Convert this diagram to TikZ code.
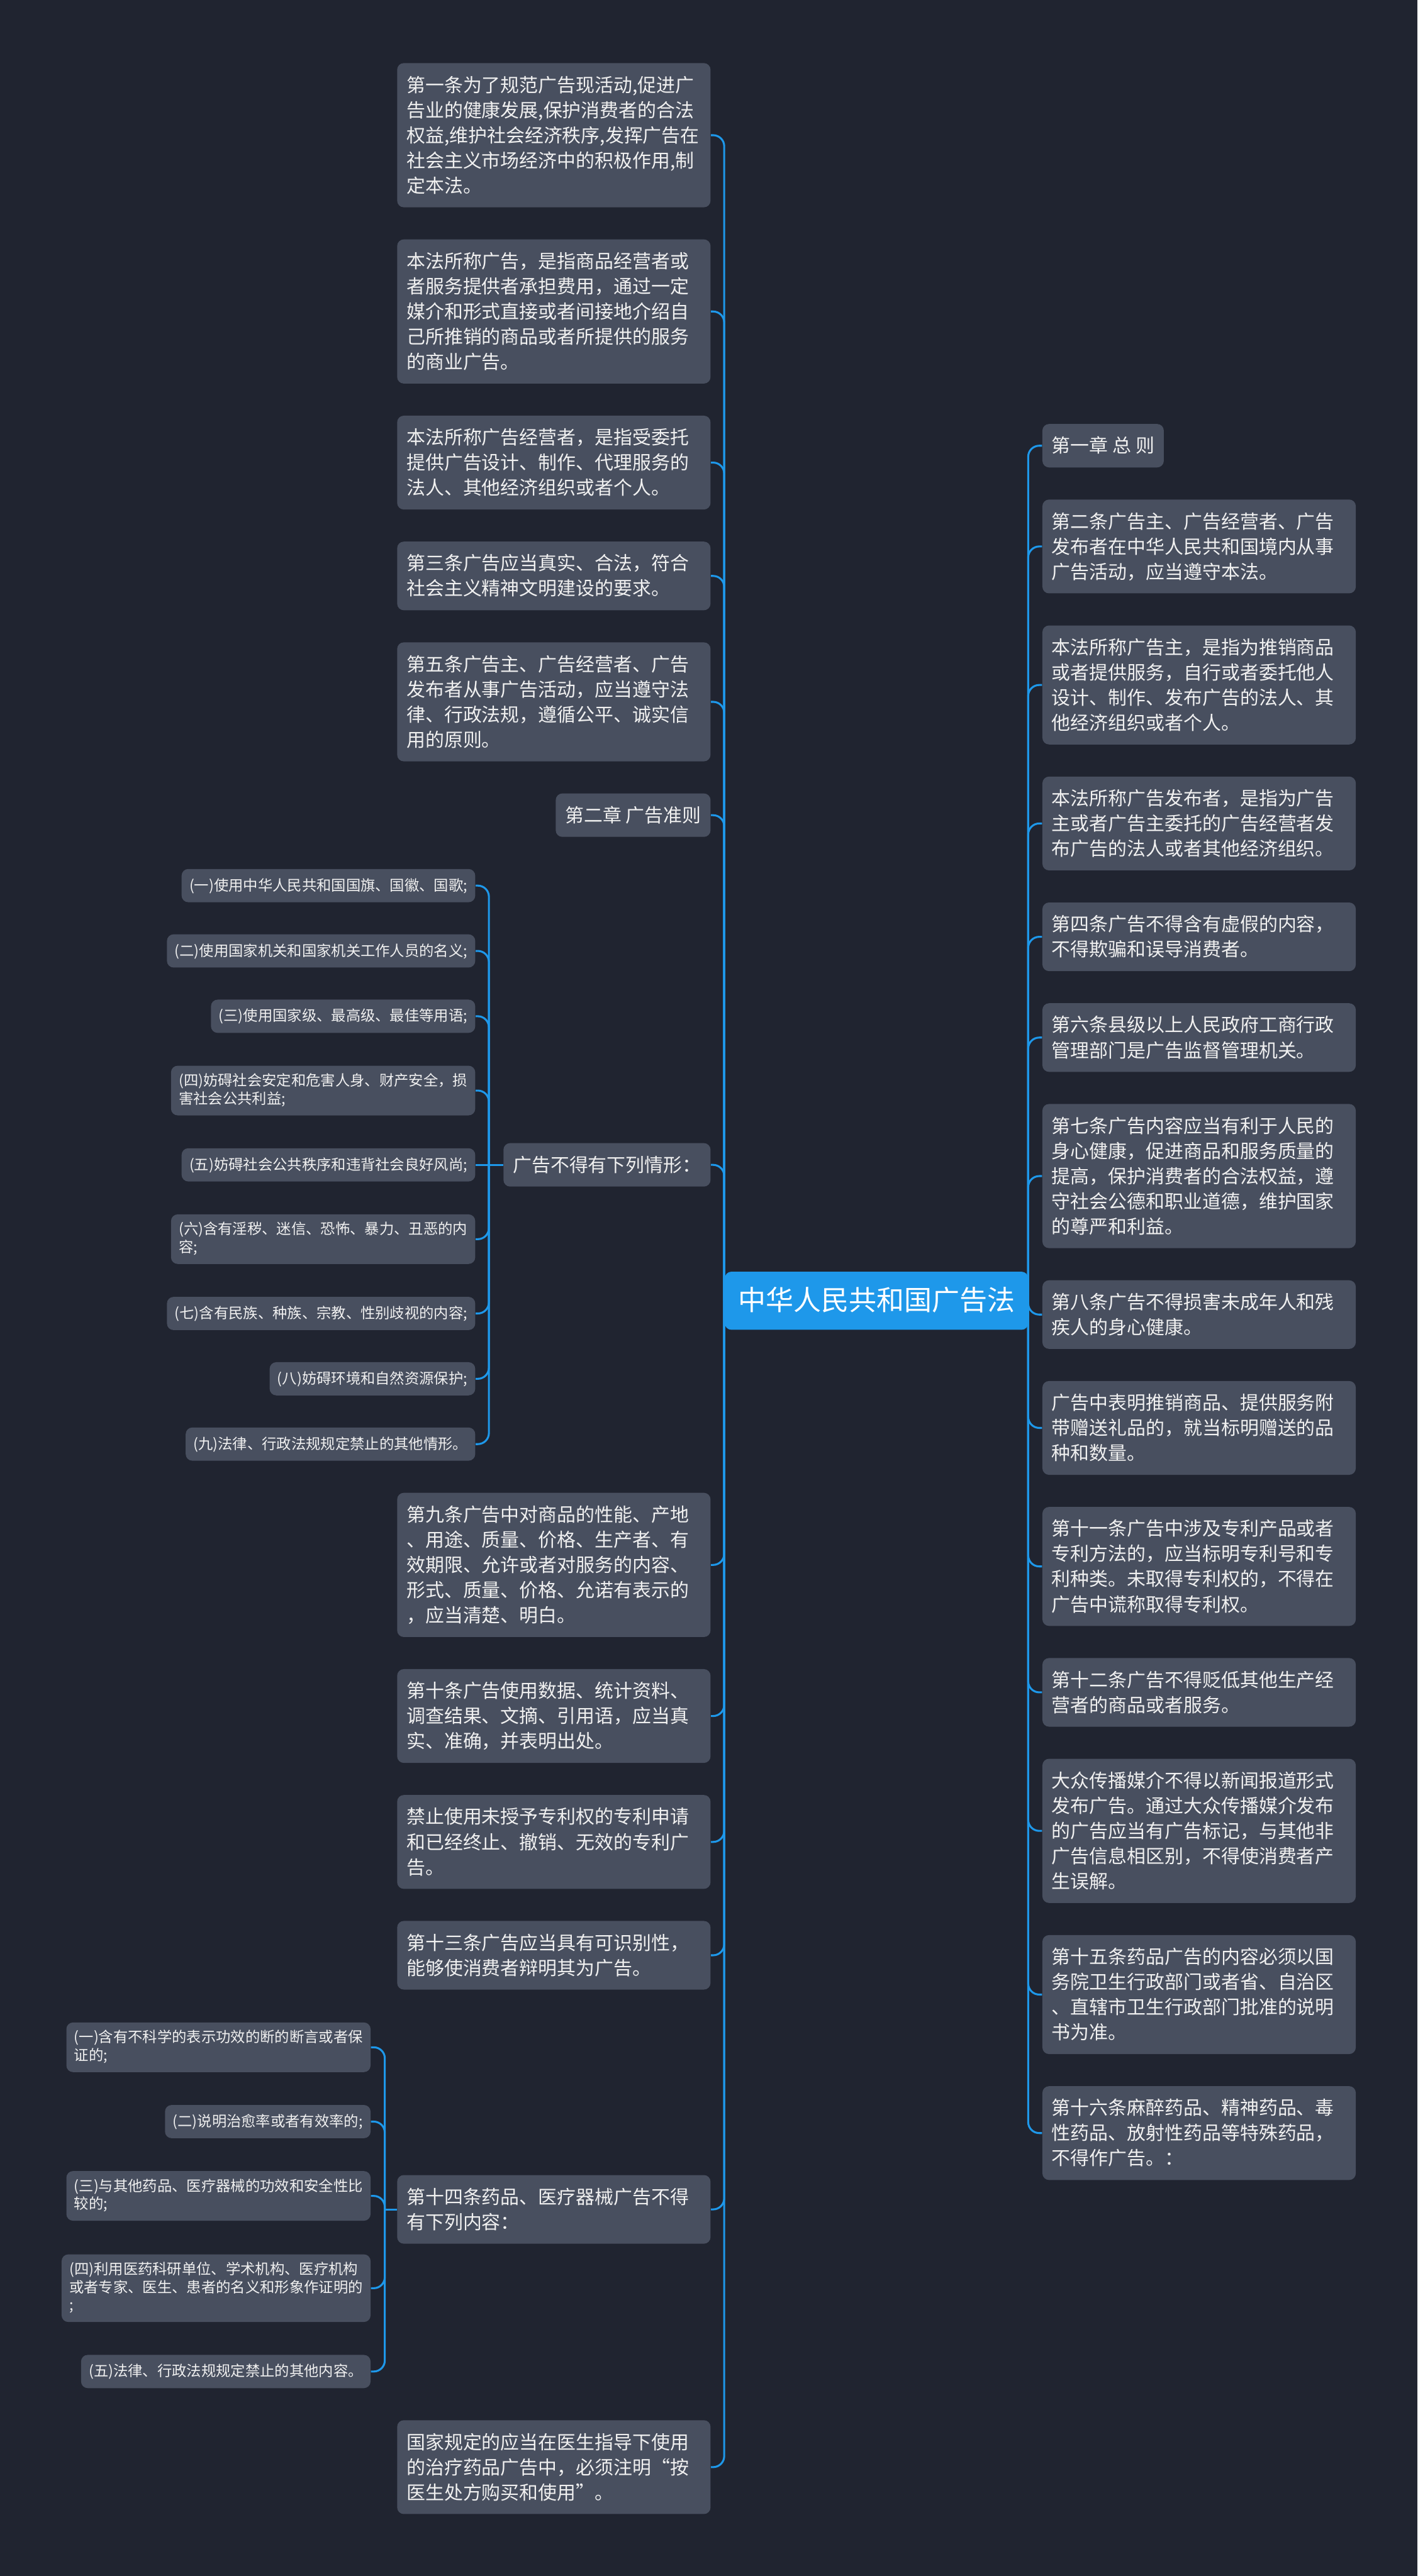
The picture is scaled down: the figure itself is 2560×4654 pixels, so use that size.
\documentclass[tikz,border=0pt]{standalone}
\usepackage{fontspec}
\setmainfont{Noto Sans CJK SC}
\usetikzlibrary{calc}
\definecolor{mapbg}{RGB}{32,36,48}
\definecolor{boxgrey}{RGB}{72,79,95}
\definecolor{mapblue}{RGB}{30,152,234}
\colorlet{boxtext}{white!94!black}
\newcommand\lnstrut{\rule[-.22\baselineskip]{0pt}{\baselineskip}}
\newcommand\leaffont{\fontsize{3.4mm}{4.55mm}\selectfont}
\newcommand\itemfont{\fontsize{2.65mm}{3.25mm}\selectfont}
\newcommand\topicfont{\fontsize{5mm}{6mm}\selectfont}
\tikzstyle{box}=[rectangle,rounded corners=1.2mm,fill=boxgrey,text=boxtext,align=left,
  inner xsep=1.7mm,inner ysep=1.65mm,font=\leaffont,
  execute at begin node=\lnstrut,execute at end node=\lnstrut]
\tikzstyle{leaf}=[box,text width=53.2mm]
\tikzstyle{tag}=[box]
\tikzstyle{item}=[box,font=\itemfont,inner xsep=1.4mm,inner ysep=1.375mm]
\tikzstyle{topic}=[box,fill=mapblue,text=white,font=\topicfont,inner xsep=2.4mm,inner ysep=2.25mm]
\tikzstyle{link}=[mapblue,line width=0.35mm,rounded corners=2mm]
\newcommand\twig[3]{\draw[link] (#1 |- #2) |- (#3);} % spine, parent anchor, child anchor

\begin{document}
\begin{tikzpicture}[x=0.1mm,y=-0.1mm]
  \path[use as bounding box,fill=mapbg] (0,0) rectangle (2560,4654);
  \coordinate (LS) at (1308,0); % left spine
  \coordinate (RS) at (1857,0); % right spine
  \coordinate (CS) at (883,0);  % spine of the nine cases
  \coordinate (KS) at (695,0);  % spine of the drug cases

  \node[topic] (T) at (1583,2350) {中华人民共和国广告法};

  % LEFT
  \node[leaf,anchor=east] (L1) at (1284,244.25) {第一条为了规范广告现活动,促进广\\告业的健康发展,保护消费者的合法\\权益,维护社会经济秩序,发挥广告在\\社会主义市场经济中的积极作用,制\\定本法。};
  \node[leaf,anchor=east] (L2) at (1284,562.75) {本法所称广告，是指商品经营者或\\者服务提供者承担费用，通过一定\\媒介和形式直接或者间接地介绍自\\己所推销的商品或者所提供的服务\\的商业广告。};
  \node[leaf,anchor=east] (L3) at (1284,835.75) {本法所称广告经营者，是指受委托\\提供广告设计、制作、代理服务的\\法人、其他经济组织或者个人。};
  \node[leaf,anchor=east] (L4) at (1284,1040.5) {第三条广告应当真实、合法，符合\\社会主义精神文明建设的要求。};
  \node[leaf,anchor=east] (L5) at (1284,1268) {第五条广告主、广告经营者、广告\\发布者从事广告活动，应当遵守法\\律、行政法规，遵循公平、诚实信\\用的原则。};
  \node[tag,anchor=east] (L6) at (1284,1472.75) {第二章 广告准则};
  \node[tag,anchor=east] (L7) at (1284,2104.5) {广告不得有下列情形：};
  \node[leaf,anchor=east] (L8) at (1284,2827.25) {第九条广告中对商品的性能、产地\\、用途、质量、价格、生产者、有\\效期限、允许或者对服务的内容、\\形式、质量、价格、允诺有表示的\\，应当清楚、明白。};
  \node[leaf,anchor=east] (L9) at (1284,3100.25) {第十条广告使用数据、统计资料、\\调查结果、文摘、引用语，应当真\\实、准确，并表明出处。};
  \node[leaf,anchor=east] (L10) at (1284,3327.75) {禁止使用未授予专利权的专利申请\\和已经终止、撤销、无效的专利广\\告。};
  \node[leaf,anchor=east] (L11) at (1284,3532.5) {第十三条广告应当具有可识别性，\\能够使消费者辩明其为广告。};
  \node[leaf,anchor=east] (L12) at (1284,3991.6) {第十四条药品、医疗器械广告不得\\有下列内容：};
  \node[leaf,anchor=east] (L13) at (1284,4457.25) {国家规定的应当在医生指导下使用\\的治疗药品广告中，必须注明“按\\医生处方购买和使用”。};

  % cases of L7
  \node[item,anchor=east] (C1) at (859,1600) {(一)使用中华人民共和国国旗、国徽、国歌;};
  \node[item,anchor=east] (C2) at (859,1718) {(二)使用国家机关和国家机关工作人员的名义;};
  \node[item,anchor=east] (C3) at (859,1836) {(三)使用国家级、最高级、最佳等用语;};
  \node[item,anchor=east] (C4) at (859,1970.25) {(四)妨碍社会安定和危害人身、财产安全，损\\害社会公共利益;};
  \node[item,anchor=east] (C5) at (859,2104.5) {(五)妨碍社会公共秩序和违背社会良好风尚;};
  \node[item,anchor=east] (C6) at (859,2238.75) {(六)含有淫秽、迷信、恐怖、暴力、丑恶的内\\容;};
  \node[item,anchor=east] (C7) at (859,2373) {(七)含有民族、种族、宗教、性别歧视的内容;};
  \node[item,anchor=east] (C8) at (859,2491) {(八)妨碍环境和自然资源保护;};
  \node[item,anchor=east] (C9) at (859,2609) {(九)法律、行政法规规定禁止的其他情形。};

  % cases of L12
  \node[item,anchor=east] (K1) at (670,3698.75) {(一)含有不科学的表示功效的断的断言或者保\\证的;};
  \node[item,anchor=east] (K2) at (670,3833) {(二)说明治愈率或者有效率的;};
  \node[item,anchor=east] (K3) at (670,3967.25) {(三)与其他药品、医疗器械的功效和安全性比\\较的;};
  \node[item,anchor=east] (K4) at (670,4134) {(四)利用医药科研单位、学术机构、医疗机构\\或者专家、医生、患者的名义和形象作证明的\\;};
  \node[item,anchor=east] (K5) at (670,4284.5) {(五)法律、行政法规规定禁止的其他内容。};

  % RIGHT
  \node[tag,anchor=west] (R1) at (1882,805.25) {第一章 总 则};
  \node[leaf,anchor=west] (R2) at (1882,987.25) {第二条广告主、广告经营者、广告\\发布者在中华人民共和国境内从事\\广告活动，应当遵守本法。};
  \node[leaf,anchor=west] (R3) at (1882,1237.5) {本法所称广告主，是指为推销商品\\或者提供服务，自行或者委托他人\\设计、制作、发布广告的法人、其\\他经济组织或者个人。};
  \node[leaf,anchor=west] (R4) at (1882,1487.75) {本法所称广告发布者，是指为广告\\主或者广告主委托的广告经营者发\\布广告的法人或者其他经济组织。};
  \node[leaf,anchor=west] (R5) at (1882,1692.5) {第四条广告不得含有虚假的内容，\\不得欺骗和误导消费者。};
  \node[leaf,anchor=west] (R6) at (1882,1874.5) {第六条县级以上人民政府工商行政\\管理部门是广告监督管理机关。};
  \node[leaf,anchor=west] (R7) at (1882,2124.75) {第七条广告内容应当有利于人民的\\身心健康，促进商品和服务质量的\\提高，保护消费者的合法权益，遵\\守社会公德和职业道德，维护国家\\的尊严和利益。};
  \node[leaf,anchor=west] (R8) at (1882,2375) {第八条广告不得损害未成年人和残\\疾人的身心健康。};
  \node[leaf,anchor=west] (R9) at (1882,2579.75) {广告中表明推销商品、提供服务附\\带赠送礼品的，就当标明赠送的品\\种和数量。};
  \node[leaf,anchor=west] (R10) at (1882,2830) {第十一条广告中涉及专利产品或者\\专利方法的，应当标明专利号和专\\利种类。未取得专利权的，不得在\\广告中谎称取得专利权。};
  \node[leaf,anchor=west] (R11) at (1882,3057.5) {第十二条广告不得贬低其他生产经\\营者的商品或者服务。};
  \node[leaf,anchor=west] (R12) at (1882,3307.75) {大众传播媒介不得以新闻报道形式\\发布广告。通过大众传播媒介发布\\的广告应当有广告标记，与其他非\\广告信息相区别，不得使消费者产\\生误解。};
  \node[leaf,anchor=west] (R13) at (1882,3603.5) {第十五条药品广告的内容必须以国\\务院卫生行政部门或者省、自治区\\、直辖市卫生行政部门批准的说明\\书为准。};
  \node[leaf,anchor=west] (R14) at (1882,3853.75) {第十六条麻醉药品、精神药品、毒\\性药品、放射性药品等特殊药品，\\不得作广告。：};

  % LINKS
  \draw[link] (T.west) -- (LS |- T.west);
  \draw[link] (T.east) -- (RS |- T.east);
  \twig{LS}{T.west}{L1.east}
  \twig{LS}{T.west}{L2.east}
  \twig{LS}{T.west}{L3.east}
  \twig{LS}{T.west}{L4.east}
  \twig{LS}{T.west}{L5.east}
  \twig{LS}{T.west}{L6.east}
  \twig{LS}{T.west}{L7.east}
  \twig{LS}{T.west}{L8.east}
  \twig{LS}{T.west}{L9.east}
  \twig{LS}{T.west}{L10.east}
  \twig{LS}{T.west}{L11.east}
  \twig{LS}{T.west}{L12.east}
  \twig{LS}{T.west}{L13.east}
  \draw[link] (L7.west) -- (C5.east); % straight through
  \twig{CS}{L7.west}{C1.east}
  \twig{CS}{L7.west}{C2.east}
  \twig{CS}{L7.west}{C3.east}
  \twig{CS}{L7.west}{C4.east}
  \twig{CS}{L7.west}{C6.east}
  \twig{CS}{L7.west}{C7.east}
  \twig{CS}{L7.west}{C8.east}
  \twig{CS}{L7.west}{C9.east}
  \draw[link] (L12.west) -- (KS |- L12.west);
  \twig{KS}{L12.west}{K1.east}
  \twig{KS}{L12.west}{K2.east}
  \twig{KS}{L12.west}{K3.east}
  \twig{KS}{L12.west}{K4.east}
  \twig{KS}{L12.west}{K5.east}
  \twig{RS}{T.east}{R1.west}
  \twig{RS}{T.east}{R2.west}
  \twig{RS}{T.east}{R3.west}
  \twig{RS}{T.east}{R4.west}
  \twig{RS}{T.east}{R5.west}
  \twig{RS}{T.east}{R6.west}
  \twig{RS}{T.east}{R7.west}
  \twig{RS}{T.east}{R8.west}
  \twig{RS}{T.east}{R9.west}
  \twig{RS}{T.east}{R10.west}
  \twig{RS}{T.east}{R11.west}
  \twig{RS}{T.east}{R12.west}
  \twig{RS}{T.east}{R13.west}
  \twig{RS}{T.east}{R14.west}
\end{tikzpicture}
\end{document}
